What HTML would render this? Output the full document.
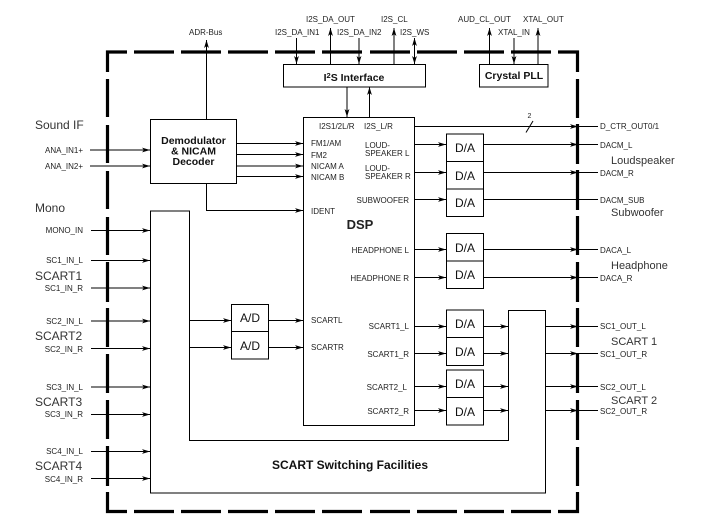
<!DOCTYPE html>
<html><head><meta charset="utf-8"><style>
html,body{margin:0;padding:0;background:#fff}
svg{display:block}
text{font-family:"Liberation Sans",sans-serif;font-size:8px;fill:#222}
.l{font-size:12px;fill:#333}
.b{font-size:10.5px;font-weight:bold;text-anchor:middle;fill:#111}
.d{font-size:12px;text-anchor:middle;fill:#111}
.e{text-anchor:end}
.k{fill:none;stroke:#000;stroke-width:1}
.t{fill:none;stroke:#000;stroke-width:3.2}
</style></head><body>
<svg width="726" height="525" viewBox="0 0 726 525" xmlns="http://www.w3.org/2000/svg">
<defs>
<marker id="a" markerUnits="userSpaceOnUse" markerWidth="10" markerHeight="8" refX="8" refY="3" orient="auto"><path d="M0,0.6L8,3L0,5.4L2,3Z" fill="#000"/></marker>
<marker id="s" markerUnits="userSpaceOnUse" markerWidth="10" markerHeight="8" refX="8" refY="3" orient="auto-start-reverse"><path d="M0,0.6L8,3L0,5.4L2,3Z" fill="#000"/></marker>
</defs>

<!-- dashed chip border -->
<path class="t" d="M127,52H107.5V72M134,52H174M181,52H221M228,52H268M275,52H315M322,52H362M370,52H410M417,52H457M464,52H504M511,52H551M558,52H577.5V72
M577.5,79V118M577.5,124V164M577.5,170V210M577.5,216V255M577.5,262V302M577.5,308V347M577.5,353V393M577.5,400V440M577.5,447V486M577.5,492V511.5H558
M551,511.5H511M504,511.5H464M457,511.5H417M410,511.5H370M362,511.5H322M315,511.5H275M268,511.5H228M221,511.5H181M174,511.5H134M127,511.5H107.5V492
M107.5,486V446M107.5,439V400M107.5,393V354M107.5,347V308M107.5,302V262M107.5,255V217M107.5,209V171M107.5,163V125M107.5,117V79"/>

<!-- boxes -->
<rect class="k" x="283.5" y="64.5" width="142" height="22.5"/>
<rect class="k" x="479.5" y="64.5" width="68.5" height="22.5"/>
<rect class="k" x="150.5" y="119.5" width="86" height="64"/>
<rect class="k" x="303.5" y="117.5" width="111" height="308"/>
<path class="k" d="M150.5,211H189.5V440.5H508.5V310.5H545.5V493H150.5Z"/>
<path class="k" d="M231.5,304.5H268.5V359H231.5ZM231.5,331.5H268.5"/>
<path class="k" d="M446.5,134H483.5V216.5H446.5ZM446.5,161.5H483.5M446.5,189H483.5"/>
<path class="k" d="M446.5,233.5H483.5V288.5H446.5ZM446.5,261H483.5"/>
<path class="k" d="M446.5,310H483.5V365.5H446.5ZM446.5,337.5H483.5"/>
<path class="k" d="M446.5,370H483.5V425H446.5ZM446.5,397.5H483.5"/>

<!-- top connectors -->
<g class="k">
<path d="M206.5,119V40" marker-end="url(#a)"/>
<path d="M296.5,38V64" marker-end="url(#a)"/>
<path d="M330.5,64V28" marker-end="url(#a)"/>
<path d="M359,38V64" marker-end="url(#a)"/>
<path d="M394,64V28" marker-end="url(#a)"/>
<path d="M414.5,38V64" marker-start="url(#s)" marker-end="url(#s)"/>
<path d="M489.5,64V28" marker-end="url(#a)"/>
<path d="M514,38V64" marker-end="url(#a)"/>
<path d="M538,64V28" marker-end="url(#a)"/>
<path d="M347,87V117" marker-end="url(#a)"/>
<path d="M369.5,117V87" marker-end="url(#a)"/>
<!-- demod -->
<path d="M236.5,143.5H303" marker-end="url(#a)"/>
<path d="M236.5,154.5H303" marker-end="url(#a)"/>
<path d="M236.5,166H303" marker-end="url(#a)"/>
<path d="M236.5,176.5H303" marker-end="url(#a)"/>
<path d="M206.5,183.5V210.5H303" marker-end="url(#a)"/>
<path d="M90,150H150" marker-end="url(#a)"/>
<path d="M90,166H150" marker-end="url(#a)"/>
<!-- left inputs -->
<path d="M91,230.5H150" marker-end="url(#a)"/>
<path d="M91,260.5H150" marker-end="url(#a)"/>
<path d="M91,288H150" marker-end="url(#a)"/>
<path d="M91,321H150" marker-end="url(#a)"/>
<path d="M91,348.5H150" marker-end="url(#a)"/>
<path d="M91,387H150" marker-end="url(#a)"/>
<path d="M91,414.5H150" marker-end="url(#a)"/>
<path d="M91,451.5H150" marker-end="url(#a)"/>
<path d="M91,478.5H150" marker-end="url(#a)"/>
<!-- A/D -->
<path d="M189.5,320.5H231" marker-end="url(#a)"/>
<path d="M189.5,347.5H231" marker-end="url(#a)"/>
<path d="M268.5,320.5H303" marker-end="url(#a)"/>
<path d="M268.5,347.5H303" marker-end="url(#a)"/>
<!-- right -->
<path d="M414.5,126.5H578" marker-end="url(#a)"/><path d="M578,126.5H598"/>
<path d="M526,132.5L533,121"/>
<path d="M414.5,144.5H446" marker-end="url(#a)"/>
<path d="M414.5,172.5H446" marker-end="url(#a)"/>
<path d="M414.5,199.5H446" marker-end="url(#a)"/>
<path d="M483.5,144.5H578" marker-end="url(#a)"/><path d="M578,144.5H598"/>
<path d="M483.5,172.5H578" marker-end="url(#a)"/><path d="M578,172.5H598"/>
<path d="M483.5,199.5H598"/>
<path d="M414.5,249.5H446" marker-end="url(#a)"/>
<path d="M414.5,277.5H446" marker-end="url(#a)"/>
<path d="M483.5,249.5H578" marker-end="url(#a)"/><path d="M578,249.5H598"/>
<path d="M483.5,277.5H578" marker-end="url(#a)"/><path d="M578,277.5H598"/>
<path d="M414.5,326.5H446" marker-end="url(#a)"/>
<path d="M414.5,353.5H446" marker-end="url(#a)"/>
<path d="M414.5,386.5H446" marker-end="url(#a)"/>
<path d="M414.5,410.5H446" marker-end="url(#a)"/>
<path d="M483.5,326.5H508" marker-end="url(#a)"/>
<path d="M483.5,353.5H508" marker-end="url(#a)"/>
<path d="M483.5,386.5H508" marker-end="url(#a)"/>
<path d="M483.5,410.5H508" marker-end="url(#a)"/>
<path d="M545.5,326.5H578" marker-end="url(#a)"/><path d="M578,326.5H598"/>
<path d="M545.5,353.5H578" marker-end="url(#a)"/><path d="M578,353.5H598"/>
<path d="M545.5,386.5H578" marker-end="url(#a)"/><path d="M578,386.5H598"/>
<path d="M545.5,410.5H578" marker-end="url(#a)"/><path d="M578,410.5H598"/>
</g>

<!-- top labels -->
<text x="189" y="35">ADR-Bus</text>
<text x="275" y="35">I2S_DA_IN1</text>
<text x="306" y="22">I2S_DA_OUT</text>
<text x="337" y="35">I2S_DA_IN2</text>
<text x="381" y="22">I2S_CL</text>
<text x="400" y="35">I2S_WS</text>
<text x="458" y="22">AUD_CL_OUT</text>
<text x="498" y="35">XTAL_IN</text>
<text x="523" y="22">XTAL_OUT</text>
<text class="b" x="354" y="81">I<tspan dy="-3" font-size="7.5">2</tspan><tspan dy="3">S Interface</tspan></text>
<text class="b" x="514" y="79">Crystal PLL</text>
<text class="b" x="193.5" y="144">Demodulator</text>
<text class="b" x="193.5" y="154.5">&amp; NICAM</text>
<text class="b" x="193.5" y="165">Decoder</text>
<text class="b" x="350" y="469" style="font-size:12px">SCART Switching Facilities</text>
<text x="360" y="229" style="font-size:13px;font-weight:bold;text-anchor:middle;fill:#222">DSP</text>
<text x="529.5" y="118" style="font-size:7px;text-anchor:middle">2</text>

<!-- left labels -->
<text class="l" x="35" y="129">Sound IF</text>
<text x="45" y="153">ANA_IN1+</text>
<text x="45" y="169">ANA_IN2+</text>
<text class="l" x="35" y="212">Mono</text>
<text class="e" x="83" y="233">MONO_IN</text>
<text class="e" x="83" y="263">SC1_IN_L</text>
<text class="l" x="35" y="280">SCART1</text>
<text class="e" x="83" y="291">SC1_IN_R</text>
<text class="e" x="83" y="324">SC2_IN_L</text>
<text class="l" x="35" y="340">SCART2</text>
<text class="e" x="83" y="352">SC2_IN_R</text>
<text class="e" x="83" y="390">SC3_IN_L</text>
<text class="l" x="35" y="406">SCART3</text>
<text class="e" x="83" y="417">SC3_IN_R</text>
<text class="e" x="83" y="454">SC4_IN_L</text>
<text class="l" x="35" y="470">SCART4</text>
<text class="e" x="83" y="482">SC4_IN_R</text>

<!-- DSP labels -->
<text x="319" y="129">I2S1/2L/R</text>
<text x="364" y="129">I2S_L/R</text>
<text x="311" y="146">FM1/AM</text>
<text x="311" y="158">FM2</text>
<text x="311" y="169">NICAM A</text>
<text x="311" y="180">NICAM B</text>
<text x="311" y="214">IDENT</text>
<text x="311" y="323">SCARTL</text>
<text x="311" y="350">SCARTR</text>
<text x="365" y="148">LOUD-</text>
<text x="365" y="156">SPEAKER L</text>
<text x="365" y="171">LOUD-</text>
<text x="365" y="179">SPEAKER R</text>
<text class="e" x="409" y="203">SUBWOOFER</text>
<text class="e" x="409" y="253">HEADPHONE L</text>
<text class="e" x="409" y="281">HEADPHONE R</text>
<text class="e" x="409" y="329">SCART1_L</text>
<text class="e" x="409" y="357">SCART1_R</text>
<text class="e" x="407" y="390">SCART2_L</text>
<text class="e" x="409" y="414">SCART2_R</text>

<!-- converters -->
<text class="d" x="250" y="322">A/D</text>
<text class="d" x="250" y="350">A/D</text>
<text class="d" x="465" y="152">D/A</text>
<text class="d" x="465" y="180">D/A</text>
<text class="d" x="465" y="207">D/A</text>
<text class="d" x="465" y="252">D/A</text>
<text class="d" x="465" y="279">D/A</text>
<text class="d" x="465" y="328">D/A</text>
<text class="d" x="465" y="356">D/A</text>
<text class="d" x="465" y="388">D/A</text>
<text class="d" x="465" y="416">D/A</text>

<!-- right labels -->
<text x="600" y="129">D_CTR_OUT0/1</text>
<text x="600" y="148">DACM_L</text>
<text class="l" x="611" y="164" style="font-size:11px">Loudspeaker</text>
<text x="600" y="176">DACM_R</text>
<text x="600" y="203">DACM_SUB</text>
<text class="l" x="611" y="216" style="font-size:11px">Subwoofer</text>
<text x="600" y="253">DACA_L</text>
<text class="l" x="611" y="269" style="font-size:11px">Headphone</text>
<text x="600" y="281">DACA_R</text>
<text x="600" y="329">SC1_OUT_L</text>
<text class="l" x="611" y="345" style="font-size:11px">SCART 1</text>
<text x="600" y="357">SC1_OUT_R</text>
<text x="600" y="390">SC2_OUT_L</text>
<text class="l" x="611" y="404" style="font-size:11px">SCART 2</text>
<text x="600" y="414">SC2_OUT_R</text>
</svg>
</body></html>
